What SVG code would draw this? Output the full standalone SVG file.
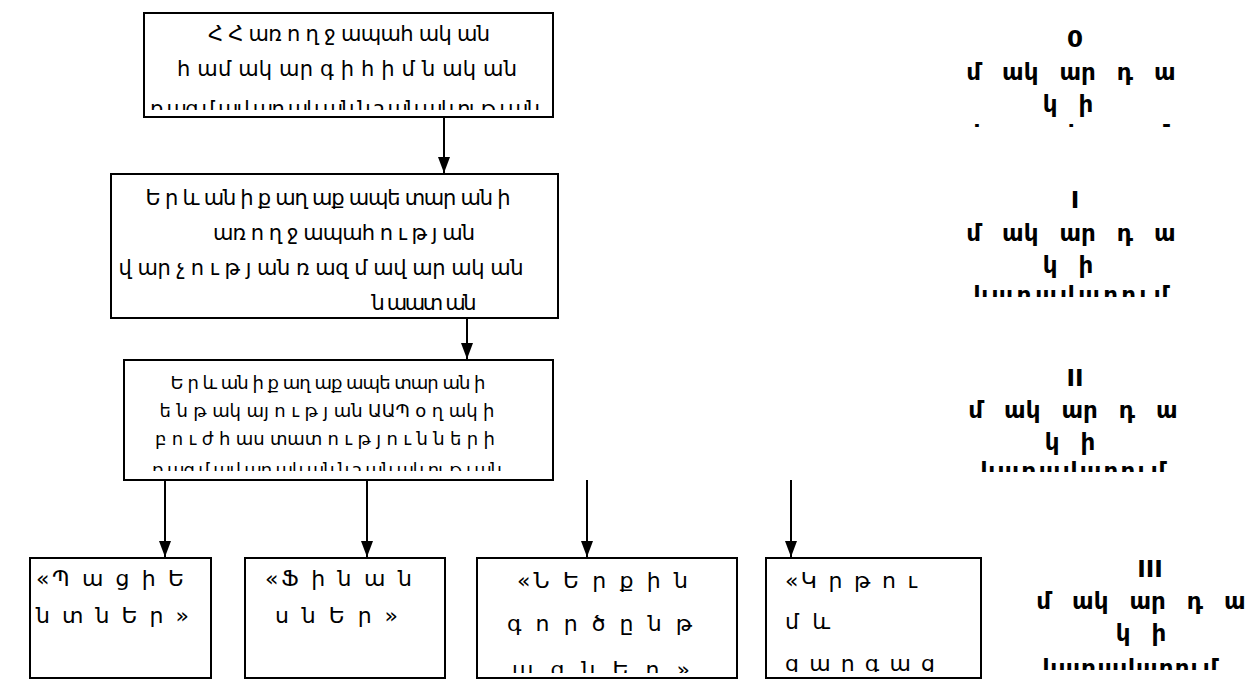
<svg xmlns="http://www.w3.org/2000/svg" width="1249" height="687" viewBox="0 0 1249 687">
  <style>
    .box { fill: #ffffff; stroke: #000000; stroke-width: 2; }
    .t { font-family: "DejaVu Sans", "Noto Sans", sans-serif; font-size: 21px; fill: #000000; }
    .tb { font-family: "DejaVu Sans", "Noto Sans", sans-serif; font-size: 22px; fill: #000000; }
    .ts { font-family: "DejaVu Sans", "Noto Sans", sans-serif; font-size: 18px; fill: #000000; }
    .lv { font-family: "DejaVu Sans", "Noto Sans", sans-serif; font-size: 23px; font-weight: bold; fill: #000000; text-anchor: middle; word-spacing: 13px; }
    .c { text-anchor: middle; }
    .wire { stroke: #000000; stroke-width: 2; fill: none; marker-end: url(#arrow); }
  </style>
  <defs>
    <marker id="arrow" viewBox="0 0 16 12" refX="16" refY="6" markerWidth="16" markerHeight="12" markerUnits="userSpaceOnUse" orient="auto">
      <path d="M0,0 L16,6 L0,12 Z" fill="#000000"/>
    </marker>
    <clipPath id="clip-b1"><rect x="144" y="13" width="409" height="97"/></clipPath>
    <clipPath id="clip-b2"><rect x="111" y="174" width="447" height="140"/></clipPath>
    <clipPath id="clip-b3"><rect x="124" y="360" width="429" height="111"/></clipPath>
    <clipPath id="clip-c"><rect x="477" y="558" width="260" height="115"/></clipPath>
    <clipPath id="clip-d"><rect x="766" y="558" width="215" height="114"/></clipPath>
    <clipPath id="clip-l0"><rect x="950" y="20" width="260" height="107"/></clipPath>
    <clipPath id="clip-l1"><rect x="950" y="180" width="260" height="117"/></clipPath>
    <clipPath id="clip-l2"><rect x="950" y="350" width="260" height="122"/></clipPath>
    <clipPath id="clip-l3"><rect x="1020" y="540" width="229" height="130"/></clipPath>
  </defs>

  <!-- connectors -->
  <g id="connectors">
    <line class="wire" x1="444" y1="117" x2="444" y2="173"/>
    <line class="wire" x1="467" y1="318" x2="467" y2="359"/>
    <line class="wire" x1="165" y1="480" x2="165" y2="557"/>
    <line class="wire" x1="367" y1="480" x2="367" y2="557"/>
    <line class="wire" x1="587" y1="480" x2="587" y2="557"/>
    <line class="wire" x1="791" y1="480" x2="791" y2="557"/>
  </g>

  <!-- level 0: ministry system -->
  <g id="node-top">
    <rect class="box" x="144" y="13" width="409" height="104"/>
    <g clip-path="url(#clip-b1)">
      <text class="t c" x="349" y="41" textLength="282">Հ Հ  առ ո ղ ջ ապահ ակ ան</text>
      <text class="t c" x="347" y="76" textLength="340">հ ամ ակ ար գ ի  հ ի մ ն ակ ան</text>
      <text class="t c" x="345" y="116" textLength="390">ռ ազ մ ավ ար ակ ան  ն շ ան ակ ու թ յ ան</text>
    </g>
  </g>

  <!-- level I: city department -->
  <g id="node-city">
    <rect class="box" x="111" y="174" width="447" height="144"/>
    <g clip-path="url(#clip-b2)">
      <text class="t c" x="328" y="205" textLength="365">Ե ր և ան ի  ք աղ աք ապե տար ան ի</text>
      <text class="t c" x="344" y="240" textLength="262">առ ո ղ ջ ապահ ո ւ թ յ ան</text>
      <text class="t c" x="321" y="275" textLength="405">վ ար չ ո ւ թ յ ան ռ ազ մ ավ ար ակ ան</text>
      <text class="t c" x="424" y="310" textLength="105">ն աատ ան</text>
    </g>
  </g>

  <!-- level II: subordinate institutions -->
  <g id="node-institutions">
    <rect class="box" x="124" y="360" width="429" height="120"/>
    <g clip-path="url(#clip-b3)">
      <text class="ts c" x="328" y="389" textLength="315">Ե ր և ան ի  ք աղ աք ապե տար ան ի</text>
      <text class="ts c" x="327" y="417" textLength="335">ե ն թ ակ այ ո ւ թ յ ան ԱԱՊ օ ղ ակ ի</text>
      <text class="ts c" x="325" y="445" textLength="340">բ ո ւ ժ հ աս տատ ո ւ թ յ ո ւ ն ն ե ր ի</text>
      <text class="ts c" x="327" y="476" textLength="350">ռ ազ մ ավ ար ակ ան ն շ ան ակ ու թ յ ան</text>
    </g>
  </g>

  <!-- level III: perspectives -->
  <g id="node-patients">
    <rect class="box" x="30" y="558" width="181" height="120"/>
    <text class="tb" x="36" y="586" textLength="148">«Պ ա ց ի Ե</text>
    <text class="tb" x="36" y="623" textLength="153">ն տ ն Ե ր »</text>
  </g>
  <g id="node-finance">
    <rect class="box" x="245" y="558" width="200" height="120"/>
    <text class="tb" x="265" y="586" textLength="147">«Ֆ ի ն ա ն</text>
    <text class="tb" x="275" y="623" textLength="123">ս ն Ե ր »</text>
  </g>
  <g id="node-processes">
    <rect class="box" x="477" y="558" width="260" height="120"/>
    <g clip-path="url(#clip-c)">
      <text class="tb" x="517" y="588" textLength="171">«Ն Ե ր ք ի ն</text>
      <text class="tb" x="507" y="631" textLength="185">գ ո ր ծ ը ն թ</text>
      <text class="tb" x="512" y="677" textLength="178">ա ց ն Ե ր »</text>
    </g>
  </g>
  <g id="node-learning">
    <rect class="box" x="766" y="558" width="215" height="120"/>
    <g clip-path="url(#clip-d)">
      <text class="tb" x="785" y="588" textLength="132">«Կ ր թ ո ւ</text>
      <text class="tb" x="785" y="629" textLength="45">մ և</text>
      <text class="tb" x="785" y="671" textLength="150">զ ա ր գ ա ց</text>
    </g>
  </g>

  <!-- level captions -->
  <g id="level-0" clip-path="url(#clip-l0)">
    <text class="lv" x="1075" y="47">0</text>
    <text class="lv" x="1071" y="80">մ ակ ար դ ա</text>
    <text class="lv" x="1068" y="112">կ ի</text>
    <text class="lv" x="1071" y="142" textLength="195">կ ա ռ ա վ ա ր ո ւ մ</text>
  </g>
  <g id="level-1" clip-path="url(#clip-l1)">
    <text class="lv" x="1075" y="208">I</text>
    <text class="lv" x="1071" y="241">մ ակ ար դ ա</text>
    <text class="lv" x="1068" y="273">կ ի</text>
    <text class="lv" x="1071" y="303" textLength="195">կ ա ռ ա վ ա ր ո ւ մ</text>
  </g>
  <g id="level-2" clip-path="url(#clip-l2)">
    <text class="lv" x="1075" y="386">II</text>
    <text class="lv" x="1073" y="418">մ ակ ար դ ա</text>
    <text class="lv" x="1070" y="450">կ ի</text>
    <text class="lv" x="1073" y="479" textLength="185">կ ա ռ ա վ ա ր ո ւ մ</text>
  </g>
  <g id="level-3" clip-path="url(#clip-l3)">
    <text class="lv" x="1150" y="577">III</text>
    <text class="lv" x="1141" y="609">մ ակ ար դ ա</text>
    <text class="lv" x="1141" y="641">կ ի</text>
    <text class="lv" x="1130" y="676" textLength="175">կ ա ռ ա վ ա ր ո ւ մ</text>
  </g>
</svg>
